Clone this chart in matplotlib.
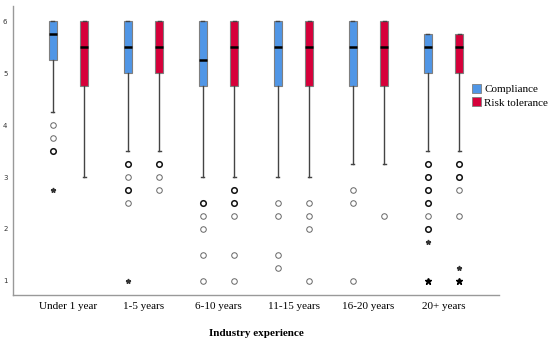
import numpy as np
import matplotlib.pyplot as plt
from matplotlib.patches import Patch

# data
groups = ["Under 1 year", "1-5 years", "6-10 years", "11-15 years", "16-20 years", "20+ years"]

# box stats: (whisker low, Q1, median, Q3, whisker high)
compliance_stats = [
    (4.25, 5.25, 5.75, 6.0, 6.0),
    (3.5, 5.0, 5.5, 6.0, 6.0),
    (3.0, 4.75, 5.25, 6.0, 6.0),
    (3.0, 4.75, 5.5, 6.0, 6.0),
    (3.25, 4.75, 5.5, 6.0, 6.0),
    (3.5, 5.0, 5.5, 5.75, 5.75),
]
risk_stats = [
    (3.0, 4.75, 5.5, 6.0, 6.0),
    (3.5, 5.0, 5.5, 6.0, 6.0),
    (3.0, 4.75, 5.5, 6.0, 6.0),
    (3.0, 4.75, 5.5, 6.0, 6.0),
    (3.25, 4.75, 5.5, 6.0, 6.0),
    (3.5, 5.0, 5.5, 5.75, 5.75),
]

# outliers (circles); repeated values = several cases on one spot
compliance_out = [
    [4.0, 3.75, 3.5, 3.5],
    [3.25, 3.25, 3.0, 2.75, 2.75, 2.5],
    [2.5, 2.5, 2.25, 2.0, 1.5, 1.0],
    [2.5, 2.25, 1.5, 1.25],
    [2.75, 2.5, 1.0],
    [3.25, 3.25, 3.0, 3.0, 2.75, 2.75, 2.5, 2.5, 2.25, 2.0, 2.0],
]
risk_out = [
    [],
    [3.25, 3.25, 3.0, 2.75],
    [2.75, 2.75, 2.5, 2.5, 2.25, 1.5, 1.0],
    [2.5, 2.25, 2.0, 1.0],
    [2.25],
    [3.25, 3.25, 3.0, 3.0, 2.75, 2.25],
]
# extremes (stars)
compliance_ext = [[2.75], [1.0], [], [], [], [1.75, 1.0, 1.0]]
risk_ext = [[], [], [], [], [], [1.25, 1.0, 1.0]]

series = ["Compliance", "Risk tolerance"]
colors = ["#5096e6", "#d6003a"]

plt.rcParams['font.family'] = ['Liberation Serif', 'DejaVu Serif']

fig = plt.figure(figsize=(5.5, 3.38), dpi=100)
ax = fig.add_axes([13 / 550, 1 - 295 / 338, (499 - 13) / 550, (295 - 6) / 338])

x = np.arange(len(groups))
offset = 0.207
width = 0.11


def draw(stats_list, outs, exts, shift, color):
    bxp = []
    for st in stats_list:
        lo, q1, med, q3, hi = st
        bxp.append(dict(whislo=lo, q1=q1, med=med, q3=q3, whishi=hi, fliers=[]))
    ax.bxp(bxp, positions=x + shift, widths=width, patch_artist=True,
           showfliers=False, manage_ticks=False,
           boxprops=dict(facecolor=color, edgecolor="#7f7f7f", linewidth=0.8),
           medianprops=dict(color="black", linewidth=1.8),
           whiskerprops=dict(color="#444444", linewidth=1.0),
           capprops=dict(color="#444444", linewidth=1.0),
           capwidths=0.04)
    for i in range(len(groups)):
        vals, counts = np.unique(outs[i], return_counts=True)
        for v, c in zip(vals, counts):
            lw = 0.7 if c == 1 else 1.1
            ec = "#666666" if c == 1 else "#111111"
            ax.plot(x[i] + shift, v, "o", ms=4, mfc="white", mec=ec, mew=lw, zorder=3)
        vals, counts = np.unique(exts[i], return_counts=True)
        for v, c in zip(vals, counts):
            ax.plot(x[i] + shift, v, "*", ms=3.5 if c == 1 else 4.5,
                    color="#333333" if c == 1 else "black", zorder=3)


draw(compliance_stats, compliance_out, compliance_ext, -offset, colors[0])
draw(risk_stats, risk_out, risk_ext, offset, colors[1])

ax.set_xlim(-0.74, 5.74)
ax.set_ylim(0.73, 6.29)
ax.set_yticks([1, 2, 3, 4, 5, 6])
ax.set_yticklabels(["1", "2", "3", "4", "5", "6"], family="DejaVu Sans", fontsize=5, color="#333333")
ax.set_xticks(x)
ax.set_xticklabels(groups, fontsize=8)
ax.tick_params(axis="both", length=0)
ax.tick_params(axis="x", pad=5)
ax.tick_params(axis="y", pad=4)
for s in ["top", "right"]:
    ax.spines[s].set_visible(False)
for s in ["left", "bottom"]:
    ax.spines[s].set_color("#999999")
    ax.spines[s].set_linewidth(1.0)

ax.set_xlabel("Industry experience", fontsize=8, fontweight="bold", labelpad=13)

handles = [Patch(facecolor=c, edgecolor="#7f7f7f", linewidth=0.6) for c in colors]
fig.legend(handles, series, loc="upper left", bbox_to_anchor=(472 / 550, 1 - 84 / 338),
           frameon=False, fontsize=8, handlelength=0.8, handleheight=0.9,
           handletextpad=0.3, labelspacing=0.25, borderpad=0, borderaxespad=0)

fig.savefig("out.png", dpi=100)
